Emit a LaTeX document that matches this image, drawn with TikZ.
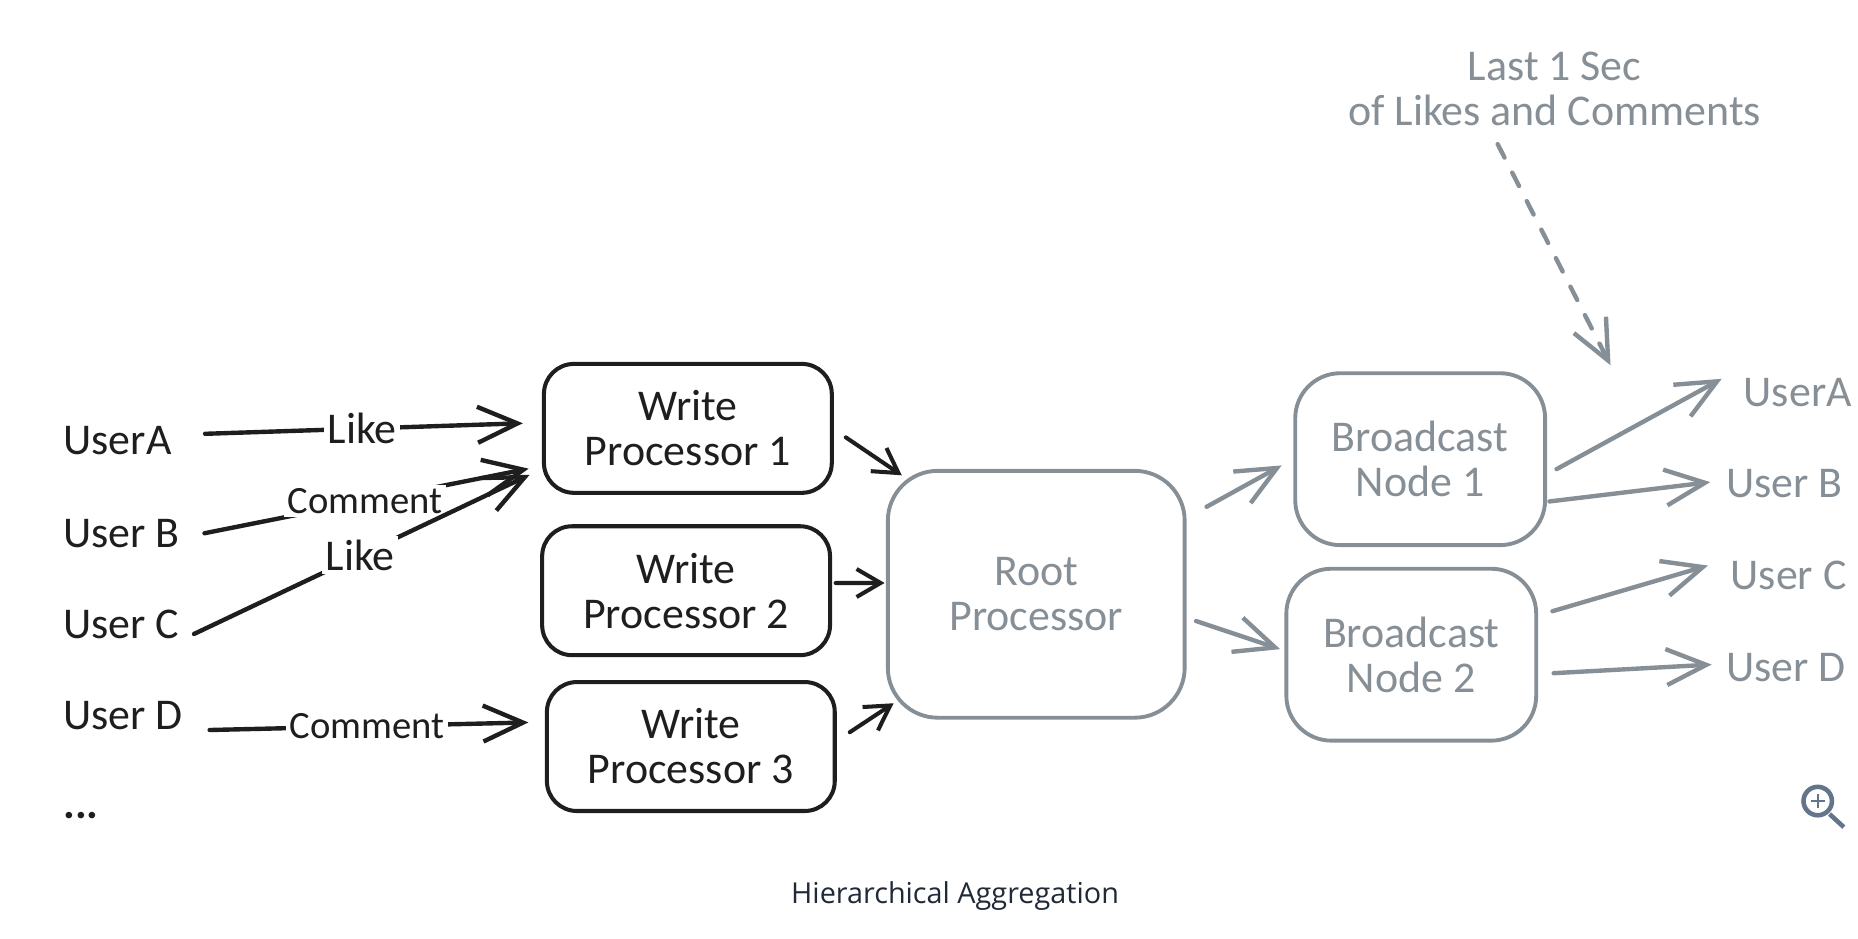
\documentclass[tikz,border=0pt]{standalone}
\usepackage{fontspec}
\setmainfont{Carlito}
\newfontfamily\captionfont{Open Sans}
\usetikzlibrary{arrows.meta}
\definecolor{inkblack}{HTML}{1E1E1E}
\definecolor{inkgrey}{HTML}{868E96}
\definecolor{captionink}{HTML}{1F2937}
\definecolor{iconink}{HTML}{64748B}
\tikzset{
	hand/.style={font=\fontsize{12.5}{12.8}\selectfont, align=center},
	procbox/.style={hand, draw=inkblack, text=inkblack, line width=1.15pt, rounded corners=3mm, minimum width=2.88cm, minimum height=1.29cm},
	rootbox/.style={hand, draw=inkgrey, text=inkgrey, line width=1.1pt, rounded corners=5mm, minimum width=2.97cm, minimum height=2.47cm},
	castbox/.style={hand, draw=inkgrey, text=inkgrey, line width=1.1pt, rounded corners=4.5mm, minimum width=2.5cm, minimum height=1.72cm},
	sender/.style={hand, text=inkblack, anchor=west, inner sep=0pt},
	viewer/.style={hand, text=inkgrey, anchor=west, inner sep=0pt},
	action/.style={hand, text=inkblack, fill=white, inner sep=1pt},
	longaction/.style={action, font=\fontsize{11}{12.8}\selectfont},
	blackarw/.style={draw=inkblack, line width=1.25pt, line cap=round, shorten >=-0.35mm, -{Straight Barb[length=4mm, width=3.6mm]}},
	shortarw/.style={draw=inkblack, line width=1.15pt, line cap=round, shorten >=-0.35mm, -{Straight Barb[length=2.4mm, width=2.8mm]}},
	greyarw/.style={draw=inkgrey, line width=1.25pt, line cap=round, shorten >=-0.3mm, -{Straight Barb[length=4mm, width=3.6mm]}},
}
\begin{document}
\begin{tikzpicture}[x=0.01185cm, y=-0.01185cm]
	\useasboundingbox (0,0) rectangle (1568,792.4);

	\node[sender] at (53,372) (userA) {UserA};
	\node[sender] at (53,450) (userB) {User B};
	\node[sender] at (53,527) (userC) {User C};
	\node[sender] at (53,604) (userD) {User D};
	\node[sender, font=\fontsize{12.5}{12.8}\bfseries] at (53,688) (more) {...};

	\node[procbox] at (580.5,361.5) (wp1) {Write\\Processor 1};
	\node[procbox] at (579,498.5) (wp2) {Write\\Processor 2};
	\node[procbox] at (583,630) (wp3) {Write\\Processor 3};
	\node[rootbox] at (874.5,501.5) (root) {Root\\Processor};
	\node[castbox] at (1198.5,387.5) (bn1) {Broadcast\\Node 1};
	\node[castbox] at (1191,552.5) (bn2) {Broadcast\\Node 2};

	\node[viewer] at (1471,331) (viewA) {UserA};
	\node[viewer] at (1456,408) (viewB) {User B};
	\node[viewer] at (1460,486) (viewC) {User C};
	\node[viewer] at (1456,563) (viewD) {User D};

	\node[hand, text=inkgrey] at (1312,75) (note) {Last 1 Sec\\of Likes and Comments};
	\coordinate (noteend) at (1358,306);
	\node[font=\captionfont\fontsize{8.2}{10}\selectfont, text=captionink] at (806,756) (caption) {Hierarchical Aggregation};

	\draw[blackarw] ([xshift=3.3mm, yshift=0.7mm]userA.east) -- node[action] (likeA) {Like} ([xshift=-2.26mm, yshift=0.5mm]wp1.west);
	\draw[blackarw] ([xshift=2.4mm]userB.east) -- node[longaction] (commentB) {Comment} ([xshift=-1.67mm, yshift=-4.1mm]wp1.west);
	\draw[blackarw] ([xshift=1.4mm, yshift=-0.95mm]userC.east) -- node[action] (likeC) {Like} ([xshift=-1.55mm, yshift=-4.8mm]wp1.west);
	\draw[blackarw] ([xshift=2.6mm, yshift=-1.43mm]userD.east) -- node[longaction] (commentD) {Comment} ([xshift=-2mm, yshift=2.4mm]wp3.west);

	\draw[shortarw] ([xshift=1.2mm, yshift=-0.9mm]wp1.east) -- ([xshift=1.3mm, yshift=12.1mm]root.west);
	\draw[shortarw] ([xshift=0.36mm, yshift=0.77mm]wp2.east) -- ([xshift=-0.48mm, yshift=1.13mm]root.west);
	\draw[shortarw] ([xshift=1.3mm, yshift=1.43mm]wp3.east) -- ([xshift=0.48mm, yshift=-11.1mm]root.west);

	\draw[greyarw] ([xshift=2mm, yshift=8.75mm]root.east) -- ([xshift=-1.43mm, yshift=-0.77mm]bn1.west);
	\draw[greyarw] ([xshift=0.95mm, yshift=-2.68mm]root.east) -- ([xshift=-0.71mm, yshift=0.65mm]bn2.west);
	\draw[greyarw] ([xshift=0.95mm, yshift=-1mm]bn1.east) -- ([xshift=-2.4mm, yshift=1.2mm]viewA.west);
	\draw[greyarw] ([xshift=0.24mm, yshift=-4.23mm]bn1.east) -- ([xshift=-1.8mm, yshift=0.1mm]viewB.west);
	\draw[greyarw] ([xshift=1.43mm, yshift=4.35mm]bn2.east) -- ([xshift=-2.5mm, yshift=0.95mm]viewC.west);
	\draw[greyarw] ([xshift=1.55mm, yshift=-1.85mm]bn2.east) -- ([xshift=-1.67mm, yshift=0.24mm]viewD.west);
	\draw[greyarw, dash pattern=on 1.5mm off 1.7mm] ([xshift=-5.7mm, yshift=-0.6mm]note.south) -- (noteend);

	\draw[iconink, line width=1.3pt] (1534,676) circle (12);
	\draw[iconink, line width=0.5pt] (1528,676) -- (1540,676) (1534,670) -- (1534,682);
	\draw[iconink, line width=1.3pt] (1544,687) -- (1556,698);
\end{tikzpicture}
\end{document}
